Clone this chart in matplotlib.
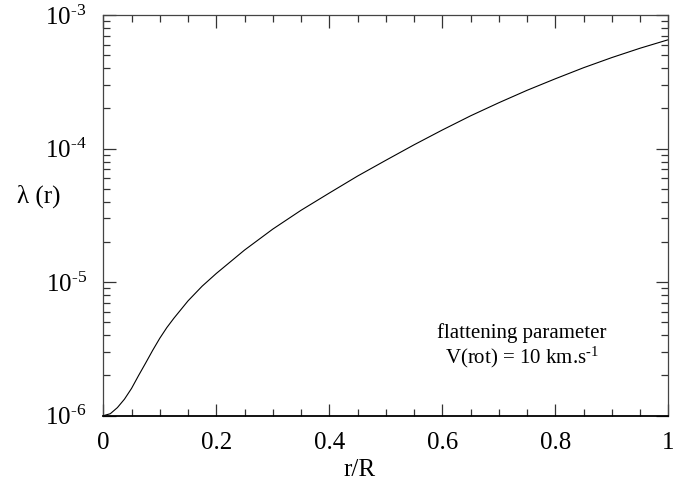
import matplotlib
matplotlib.use("Agg")
import matplotlib.pyplot as plt
from matplotlib.ticker import LogLocator, MultipleLocator, NullFormatter, FixedLocator
import numpy as np

plt.rcParams['font.family'] = ['Liberation Serif', 'DejaVu Serif']
plt.rcParams['mathtext.fontset'] = 'custom'
plt.rcParams['mathtext.rm'] = 'Liberation Serif'
plt.rcParams['mathtext.it'] = 'Liberation Serif:italic'

# data
r_vals = [0.0, 0.0125, 0.025, 0.0375, 0.05, 0.0625, 0.075, 0.0875, 0.1, 0.1125, 0.125,
          0.15, 0.175, 0.2, 0.25, 0.3, 0.35, 0.4, 0.45, 0.5, 0.55, 0.6, 0.65, 0.7,
          0.75, 0.8, 0.85, 0.9, 0.95, 1.0]
lam_vals = [1.00e-6, 1.035e-6, 1.15e-6, 1.33e-6, 1.60e-6, 2.00e-6, 2.48e-6, 3.09e-6,
            3.80e-6, 4.57e-6, 5.37e-6, 7.24e-6, 9.33e-6, 1.161e-5, 1.738e-5, 2.495e-5,
            3.451e-5, 4.645e-5, 6.223e-5, 8.166e-5, 1.067e-4, 1.377e-4, 1.758e-4,
            2.203e-4, 2.73e-4, 3.33e-4, 4.03e-4, 4.80e-4, 5.64e-4, 6.53e-4]
x_ticks = [0, 0.2, 0.4, 0.6, 0.8, 1]
x_ticklabels = ['0', '0.2', '0.4', '0.6', '0.8', '1']
y_ticks = [1e-6, 1e-5, 1e-4, 1e-3]
y_ticklabels = [r'10$^{\text{-}6}$', r'10$^{\text{-}5}$',
                r'10$^{\text{-}4}$', r'10$^{\text{-}3}$']

fig = plt.figure(figsize=(6.95, 4.87), dpi=100)
ax = fig.add_axes([0.1486, 0.1464, 0.8130, 0.8228])

ax.plot(r_vals, lam_vals, color='black', lw=0.8)

ax.set_yscale('log')
ax.set_xlim(0, 1)
ax.set_ylim(1e-6, 1e-3)

ax.xaxis.set_major_locator(FixedLocator(x_ticks))
ax.set_xticklabels(x_ticklabels)
ax.xaxis.set_minor_locator(MultipleLocator(0.05))
ax.yaxis.set_major_locator(FixedLocator(y_ticks))
ax.set_yticklabels(y_ticklabels)
ax.yaxis.set_minor_locator(LogLocator(base=10, subs=np.arange(2, 10)))
ax.yaxis.set_minor_formatter(NullFormatter())

ax.tick_params(which='both', direction='in', top=True, right=True,
               labelsize=18, color='#333333')
ax.tick_params(which='major', length=9, width=0.9)
ax.tick_params(which='minor', length=5, width=0.9)
ax.tick_params(axis='x', pad=12)
ax.tick_params(axis='y', pad=12)

for s in ax.spines.values():
    s.set_color('#444444')
    s.set_linewidth(0.9)
ax.spines['bottom'].set_color('black')
ax.spines['bottom'].set_linewidth(1.3)

fig.text(0.0554, 0.5975, 'λ (r)', fontsize=18, ha='center', va='center')
fig.text(0.518, 0.012, 'r/R', fontsize=18, ha='center', va='bottom')

ax.text(0.741, 0.195, 'flattening parameter', transform=ax.transAxes,
        fontsize=15, ha='center', va='baseline')
ax.text(0.741, 0.131, r'V(rot) = 10 km.s$^{\text{-}1}$', transform=ax.transAxes,
        fontsize=15, ha='center', va='baseline')

fig.savefig('out.png', dpi=100)
